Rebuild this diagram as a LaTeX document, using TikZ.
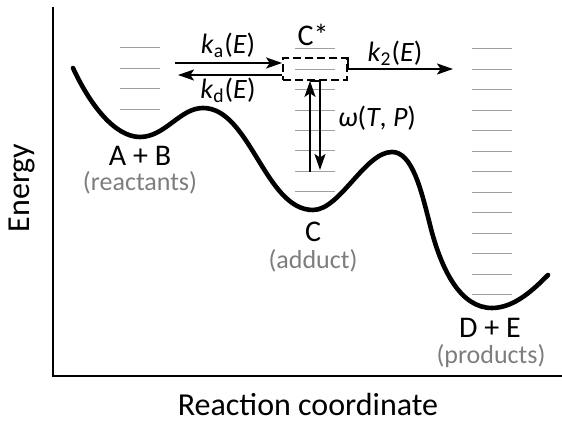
\documentclass[tikz,border=0pt]{standalone}
\usepackage{fontspec}
\setmainfont{Carlito}
\usepackage{xcolor}
\definecolor{levelgray}{RGB}{160,160,160}
\definecolor{subgray}{RGB}{125,125,125}
\usetikzlibrary{arrows.meta,positioning}

\begin{document}
\begin{tikzpicture}[x=0.5pt, y=-0.5pt,
    curve/.style={line width=2.3pt, line cap=round},
    axisline/.style={line width=1pt},
    rate/.style={-{Stealth[length=8pt, width=5.5pt, inset=1.8pt]}, line width=1pt},
    level/.style={levelgray, line width=0.5pt},
    albl/.style={font=\fontsize{16}{18}\selectfont, inner sep=0pt},
    lbl/.style={font=\fontsize{15}{17}\selectfont, inner sep=0pt},
    rlbl/.style={font=\fontsize{14}{16}\selectfont, inner sep=0pt},
    slbl/.style={font=\fontsize{13}{15}\selectfont, subgray, inner sep=0pt},
]
\useasboundingbox (0,0) rectangle (562,421);

%% --- axes ---
\draw[axisline] (53,7) -- (53,376) -- (562,376);
\node[albl, rotate=90] (energy) at (22,188) {Energy};
\node[albl] (rc) at (308,405) {Reaction coordinate};

%% --- energy levels (gray) ---
\foreach \k in {0,...,3}
    \draw[level] (120,{48+20.4*\k}) -- (160,{48+20.4*\k});
\foreach \k in {0,...,7}
    \draw[level] (295,{49+20.4*\k}) -- (335,{49+20.4*\k});
\foreach \k in {0,...,12}
    \draw[level] (472,{49+20.5*\k}) -- (512,{49+20.5*\k});

%% --- potential energy curve ---
\draw[curve] (73,68) .. controls (90,105) and (115,137) .. (140,137)
    .. controls (165,137) and (180,108) .. (203,108)
    .. controls (250,108) and (265,210) .. (313,210)
    .. controls (340,210) and (365,152) .. (392,152)
    .. controls (412,152) and (421,189) .. (430,225)
    .. controls (441,269) and (460,308) .. (492,308)
    .. controls (515,308) and (535,288) .. (548,275);

%% --- excited adduct C* ---
\node[draw, dash pattern=on 4pt off 2pt, line width=0.9pt,
    minimum width=32pt, minimum height=11pt, inner sep=0pt] (cstar) at (315,69) {};
\node[lbl] (cslabel) at (313,35) {C*};

%% --- free ends of the rate arrows ---
\coordinate (kaL) at (175,63);
\coordinate (kdL) at (178,75);
\coordinate (k2R) at (453,69);
\coordinate (upB) at (310,172);
\coordinate (dnB) at (320,170);

%% --- association / dissociation ---
\draw[rate] (kaL) -- (kaL -| cstar.west);
\draw[rate] (kdL -| cstar.west) -- (kdL);
\node[rlbl] (ka) at (228,45) {\textit{k}\textsubscript{a}(\textit{E})};
\node[rlbl] (kd) at (228,90) {\textit{k}\textsubscript{d}(\textit{E})};

%% --- reaction to products ---
\draw[line width=0.9pt] (cstar.north east) -- (cstar.east);
\draw[rate] (cstar.east) -- (k2R);
\node[rlbl] (k2) at (395,53) {\textit{k}\textsubscript{2}(\textit{E})};

%% --- collisional energy transfer ---
\draw[line width=0.9pt] (upB |- cstar.south) -- (dnB |- cstar.south);
\draw[rate] (upB) -- (upB |- cstar.south);
\draw[rate] (dnB |- cstar.south) -- (dnB);
\node[rlbl] (omega) at (377,118) {\textit{ω}(\textit{T}, \textit{P})};

%% --- species ---
\node[lbl] (ab) at (140,156) {A + B};
\node[slbl] (react) at (140,183) {(reactants)};
\node[lbl] (c) at (313,232) {C};
\node[slbl] (adduct) at (313,261) {(adduct)};
\node[lbl] (de) at (490,328) {D + E};
\node[slbl] (prod) at (491,356) {(products)};

\end{tikzpicture}
\end{document}
